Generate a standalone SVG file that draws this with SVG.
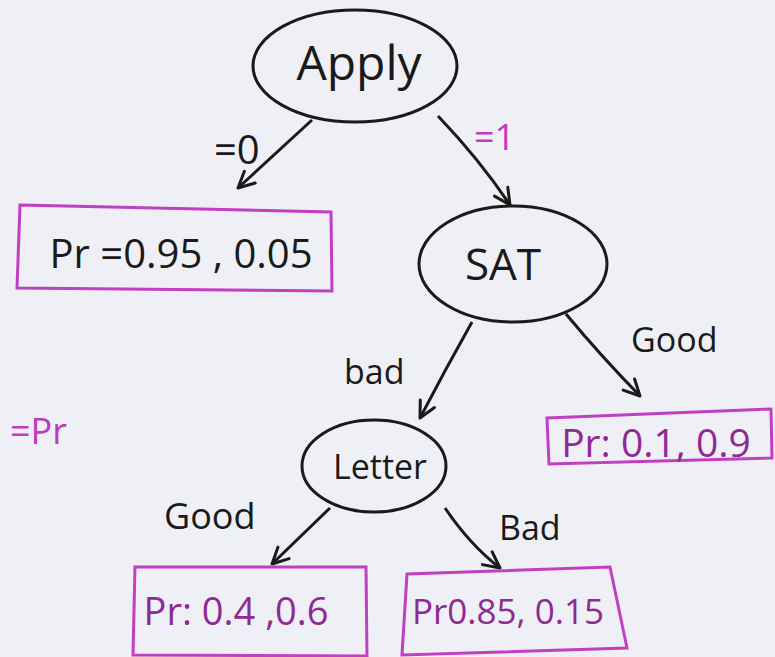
<svg xmlns="http://www.w3.org/2000/svg" width="775" height="657" viewBox="0 0 775 657">
<defs>
<marker id="arr" viewBox="0 0 20 20" refX="18" refY="10" markerWidth="20" markerHeight="20" markerUnits="userSpaceOnUse" orient="auto">
<path d="M2,2 L18,10 L2,18" fill="none" stroke="#1a1a1a" stroke-width="3" stroke-linecap="round" stroke-linejoin="round"/>
</marker>
<style>
.node{fill:none;stroke:#1a1a1a;stroke-width:3}
.box{fill:none;stroke:#c23fc4;stroke-width:3}
.edge{fill:none;stroke:#1a1a1a;stroke-width:3;marker-end:url(#arr)}
.lbl{font-family:"Open Sans","DejaVu Sans",sans-serif;fill:#1a1a1a}
.pr{font-family:"Open Sans","DejaVu Sans",sans-serif;fill:#8e2a92}
.pk{font-family:"Open Sans","DejaVu Sans",sans-serif;fill:#c03ac0}
</style>
</defs>
<rect width="775" height="657" fill="#eff0f5"/>
<g id="connectors">
<path class="edge" d="M312,120 L238,188"/>
<path class="edge" d="M438,116 Q480,160 510,205"/>
<path class="edge" d="M472,322 Q445,370 420,418"/>
<path class="edge" d="M566,314 Q600,355 640,396"/>
<path class="edge" d="M330,508 L272,564"/>
<path class="edge" d="M445,508 Q470,545 500,568"/>
<text class="lbl" x="214" y="164" font-size="40">=0</text>
<text class="pk" x="474" y="150" font-size="36">=1</text>
<text class="lbl" x="344" y="384" font-size="34">bad</text>
<text class="lbl" x="631" y="352" font-size="34">Good</text>
<text class="lbl" x="164" y="529" font-size="36">Good</text>
<text class="lbl" x="499" y="540" font-size="34">Bad</text>
</g>
<text class="pk" x="10" y="444" font-size="36">=Pr</text>
<g id="apply">
<ellipse class="node" cx="355" cy="66" rx="102" ry="56"/>
<text class="lbl" x="359" y="80" font-size="48" text-anchor="middle">Apply</text>
</g>
<g id="sat">
<ellipse class="node" cx="513" cy="264" rx="94" ry="58"/>
<text class="lbl" x="503" y="280" font-size="44" text-anchor="middle">SAT</text>
</g>
<g id="letter">
<ellipse class="node" cx="374" cy="466" rx="72" ry="46"/>
<text class="lbl" x="380" y="479" font-size="34" text-anchor="middle">Letter</text>
</g>
<g id="box-apply0">
<polygon class="box" points="20,205 331,212 332,291 17,288"/>
<text class="lbl" x="181" y="268" font-size="40" text-anchor="middle">Pr =0.95 , 0.05</text>
</g>
<g id="box-satgood">
<polygon class="box" points="547,418 771,409 772,458 549,464"/>
<text class="pr" x="656" y="457" font-size="39" text-anchor="middle">Pr: 0.1, 0.9</text>
</g>
<g id="box-lettergood">
<polygon class="box" points="135,567 366,567 367,656 133,655"/>
<text class="pr" x="236" y="625" font-size="38" text-anchor="middle">Pr: 0.4 ,0.6</text>
</g>
<g id="box-letterbad">
<polygon class="box" points="407,574 610,567 627,648 402,655"/>
<text class="pr" x="508" y="624" font-size="35" text-anchor="middle">Pr0.85, 0.15</text>
</g>
</svg>
